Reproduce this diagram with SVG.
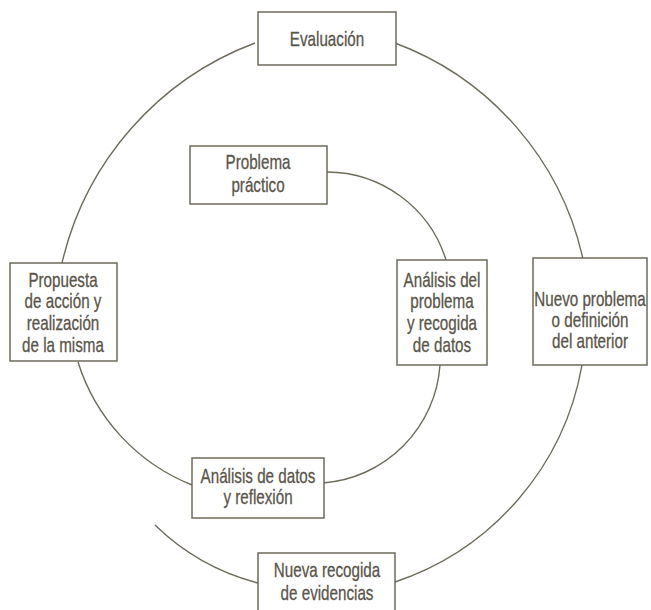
<svg xmlns="http://www.w3.org/2000/svg" width="651" height="610" viewBox="0 0 651 610">
<style>
.box{fill:#fff;stroke:#6e6a5c;stroke-width:1.5}
.arc{fill:none;stroke:#6e6a5c;stroke-width:1.4}
text{font-family:"Liberation Sans",Arial,sans-serif;font-size:20px;fill:#59554a;stroke:#59554a;stroke-width:0.3;text-anchor:middle}
</style>
<rect width="651" height="610" fill="#fff"/>
<g id="connectors">
<path class="arc" d="M327,172 A125,125 0 0 1 446,260"/>
<path class="arc" d="M440,365 A127,127 0 0 1 323,483"/>
<path class="arc" d="M192,485 A195,195 0 0 1 78,362"/>
<path class="arc" d="M62,263 A310,310 0 0 1 255,43"/>
<path class="arc" d="M395,43 A300,300 0 0 1 583,259"/>
<path class="arc" d="M582,365 A280,280 0 0 1 395,582"/>
<path class="arc" d="M258,583 A230,230 0 0 1 155,525"/>
</g>
<g id="evaluacion">
<rect class="box" x="258" y="12" width="138" height="53"/>
<text transform="translate(327,0) scale(0.76,1)" y="46">Evaluación</text>
</g>
<g id="problema-practico">
<rect class="box" x="190" y="146" width="137" height="58"/>
<g transform="translate(258,0) scale(0.76,1)">
<text y="169">Problema</text>
<text y="192">práctico</text>
</g>
</g>
<g id="propuesta">
<rect class="box" x="10" y="263" width="107" height="98"/>
<g transform="translate(63,0) scale(0.76,1)">
<text y="287">Propuesta</text>
<text y="308">de acción y</text>
<text y="330">realización</text>
<text y="352">de la misma</text>
</g>
</g>
<g id="analisis-problema">
<rect class="box" x="397" y="260" width="90" height="105"/>
<g transform="translate(442,0) scale(0.76,1)">
<text y="287">Análisis del</text>
<text y="308">problema</text>
<text y="330">y recogida</text>
<text y="352">de datos</text>
</g>
</g>
<g id="nuevo-problema">
<rect class="box" x="533" y="258" width="114" height="107"/>
<g transform="translate(590,0) scale(0.76,1)">
<text y="306">Nuevo problema</text>
<text y="327">o definición</text>
<text y="348">del anterior</text>
</g>
</g>
<g id="analisis-datos">
<rect class="box" x="192" y="458" width="132" height="60"/>
<g transform="translate(258,0) scale(0.76,1)">
<text y="483">Análisis de datos</text>
<text y="504">y reflexión</text>
</g>
</g>
<g id="nueva-recogida">
<rect class="box" x="258" y="553" width="137" height="62"/>
<g transform="translate(327,0) scale(0.76,1)">
<text y="577">Nueva recogida</text>
<text y="600">de evidencias</text>
</g>
</g>
</svg>
